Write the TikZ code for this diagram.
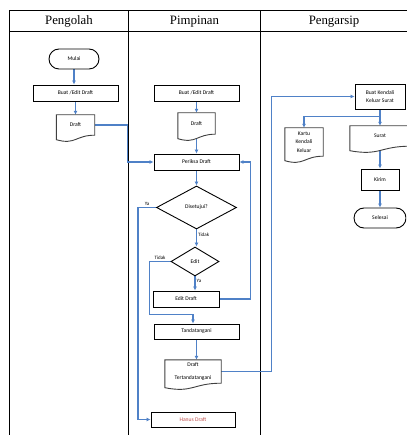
\documentclass[tikz,border=0pt]{standalone}
\usepackage{fontspec}
\setmainfont{Liberation Serif}
\newfontfamily\boxfont{Carlito}
\usetikzlibrary{shapes.geometric,arrows.meta,calc}
\pgfdeclarelayer{lanes}
\pgfdeclarelayer{docs}
\pgfsetlayers{lanes,docs,main}
\definecolor{flowblue}{RGB}{79,129,199}
\definecolor{hanusred}{RGB}{192,80,77}
\tikzset{
  lane/.style={line width=1pt},
  head/.style={font=\fontsize{12.8}{14}\selectfont},
  proc/.style={draw, line width=0.9pt, minimum height=16pt, inner sep=1pt,
    align=center, font=\boxfont\fontsize{5.6}{8.5}\selectfont},
  term/.style={proc, rounded corners=10pt, minimum height=20pt},
  decide/.style={diamond, draw, line width=0.9pt, inner sep=0pt,
    font=\boxfont\fontsize{5.6}{7}\selectfont},
  docbox/.style={inner sep=1pt, align=center,
    font=\boxfont\fontsize{5.6}{8.5}\selectfont},
  docline/.style={draw=black!75, line width=0.9pt, fill=white},
  link/.style={draw=flowblue, line width=1.3pt},
  flow/.style={link, -{Latex[length=4pt,width=4pt]}},
  lbl/.style={font=\boxfont\fontsize{5}{6}\selectfont, inner sep=1pt},
}
\begin{document}
\begin{tikzpicture}[x=1pt,y=-1pt]
  \useasboundingbox (0,0) rectangle (406,435);
  \clip (0,0) rectangle (406,435);

  \node[head] (hPengolah) at (69,21.5) {Pengolah};
  \node[head] (hPimpinan) at (194.5,21.5) {Pimpinan};
  \node[head] (hPengarsip) at (334,21.5) {Pengarsip};

  % pengolah
  \node[term, minimum width=50pt] (mulai) at (74,59) {Mulai};
  \node[proc, minimum width=85pt] (buatA) at (75.5,93) {Buat /Edit Draft};
  \node[docbox, minimum width=38pt, minimum height=20pt] (draftA) at (75.5,125) {Draft};

  % pimpinan
  \node[proc, minimum width=85pt] (buatB) at (196.5,93) {Buat /Edit Draft};
  \node[docbox, minimum width=37pt, minimum height=21pt] (draftB) at (196.5,123.5) {Draft};
  \node[proc, minimum width=85pt] (periksa) at (196.5,162) {Periksa Draft};
  \node[decide, minimum width=80pt, minimum height=43pt] (setuju) at (196.5,207.5) {Disetujui?};
  \node[decide, minimum width=48pt, minimum height=29pt] (edit) at (195,261.5) {Edit};
  \node[proc, minimum width=66pt] (editDraft) at (186,299) {Edit Draft};
  \node[proc, minimum width=85pt, minimum height=15pt] (tanda) at (196.5,331.5) {Tandatangani};
  \node[docbox, minimum width=56pt, minimum height=23pt] (draftTT) at (193,371.5) {Draft\\[4pt]Tertandatangani};
  \node[proc, minimum width=84pt, minimum height=15pt, text=hanusred] (hanus) at (193,419.5) {Hanus Draft};

  % pengarsip
  \node[proc, minimum width=50pt, minimum height=25pt] (kendali) at (380,96.5) {Buat Kendali\\Keluar Surat};
  \node[docbox, minimum width=38pt, minimum height=28pt] (kartu) at (304,142) {Kartu\\Kendali\\Keluar};
  \node[docbox, minimum width=60pt, minimum height=20pt] (surat) at (380,136) {Surat};
  \node[proc, minimum width=38pt, minimum height=21pt] (kirim) at (380,179.5) {Kirim};
  \node[term, minimum width=52pt] (selesai) at (380,218) {Selesai};

  \begin{pgfonlayer}{lanes}
    \draw[lane] (9,440) -- (9,11) -- (410,11);
    \draw[lane] (9,32) -- (410,32);
    \foreach \x in {128,260} {
      \draw[lane] (\x,11) -- (\x,440);
    }
    \draw[flow] (mulai.south) -- (mulai.south |- buatA.north);
    \draw[flow] (buatA.south) -- (buatA.south |- draftA.north);
    \draw[flow] (draftA.east) -| ($(periksa.west)+(-26,0)$) -- (periksa.west);
    \draw[flow] (buatB) -- (draftB);
    \draw[flow] (draftB) -- (periksa);
    \draw[flow] (periksa) -- (setuju);
    \draw[flow] (setuju.south) -- node[lbl, right, pos=0.3] {Tidak} (setuju.south |- edit.north);
    \draw[flow] (edit.south) -- node[lbl, right, pos=0.3] {Ya} (edit.south |- editDraft.north);
    \draw[flow] (editDraft.east) -| ($(periksa.east)+(11,0)$) -- (periksa.east);
    \draw[flow] (setuju.west) -- node[lbl, above] {Ya} ++(-18,0) |- (hanus.west);
    \draw[flow] (edit.west) -- node[lbl, above] {Tidak} ++(-21,0)
      |- ($(tanda.north)+(-3.5,-9)$) -- ($(tanda.north)+(-3.5,0)$);
    \draw[flow] (tanda.south) -- (tanda.south |- draftTT.north);
    \draw[flow] (draftTT.east) -| ($(kendali.west)+(-83,0)$) -- (kendali.west);
    \draw[flow] (kendali.south) -- (surat.north);
    \draw[flow] (kendali.south) -- ++(0,7) -| (kartu.north);
    \draw[flow] (surat) -- (kirim);
    \draw[flow] (kirim) -- (selesai);
  \end{pgfonlayer}

  \begin{pgfonlayer}{docs}
    \foreach \d in {draftA,draftB,draftTT,kartu,surat} {
      \draw[docline] (\d.north west) -- (\d.north east) -- (\d.south east)
        .. controls (\d.south) and ($(\d.south)+(0,10)$) .. ($(\d.south west)+(0,4.5)$) -- cycle;
    }
  \end{pgfonlayer}
\end{tikzpicture}
\end{document}
